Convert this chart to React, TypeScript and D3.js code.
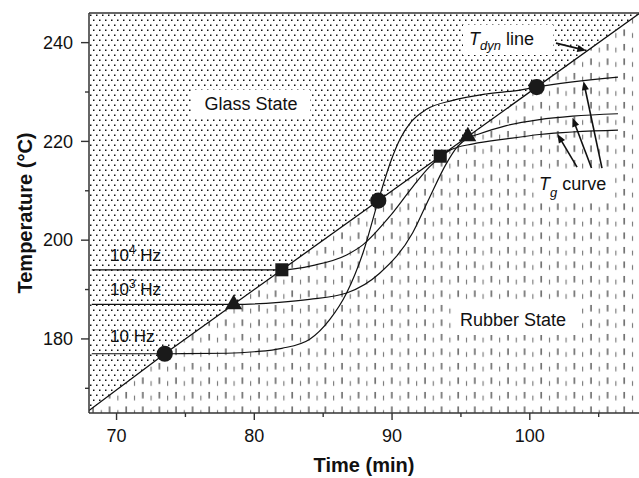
import React from 'react';
import * as d3 from 'd3';

const W = 639;
const H = 478;

const xDomain = [68, 108];
const yDomain = [165, 246];
const xMajorTicks = [70, 80, 90, 100];
const xMinorTicks = [75, 85, 95, 105];
const yMajorTicks = [180, 200, 220, 240];
const yMinorTicks = [170, 190, 210, 230];

// T_dyn line
const tdynTime = [68, 73.5, 108];
const tdynTemp = [165.5, 177, 246];

// Tg curves
const curve10Time = [68.2, 74, 78, 80, 82, 84, 85.5, 86.7, 87.9, 89, 89.95, 90.6, 91.4, 92.5, 94.4, 96.8, 99.3, 100.5, 106.4];
const curve10Temp = [177, 177, 177.1, 177.4, 178.1, 179.9, 184, 189.3, 197.5, 208, 216.3, 220.6, 224, 226.5, 228.3, 229.6, 230.4, 231, 233];

const curve1e3Time = [68.2, 78.5, 81.8, 84, 86.7, 89.1, 91.5, 92.7, 93.9, 94.7, 95.6, 96.2, 98.3, 100.7, 103.1, 106.4];
const curve1e3Temp = [187, 187, 187.4, 188, 189.3, 193.3, 201.5, 208.5, 215.3, 218.8, 220.8, 221.4, 223.2, 224.4, 225.1, 225.6];

const curve1e4Time = [68.2, 82, 84.3, 86.7, 87.9, 89.8, 91.5, 92.7, 93.6, 94.2, 95.9, 98.3, 100.7, 106.4];
const curve1e4Temp = [194, 194, 194.9, 197, 199.1, 204.7, 210.8, 214.8, 217, 218.2, 219.5, 220.5, 221.4, 222.3];

// markers on the T_dyn line
const markerTime = [73.5, 78.5, 82, 89, 93.5, 95.5, 100.5];
const markerTemp = [177, 187, 194, 208, 217, 221, 231];
const markerShape = ['circle', 'triangle', 'square', 'circle', 'square', 'triangle', 'circle'];

// annotation arrows [tailTime, tailTemp, tipTime, tipTemp]
const tdynArrow = [101.9, 239.9, 104.1, 238.4];
const tgArrowTail = [[103.43, 214.8], [104.48, 214.6], [105.24, 214.6]];
const tgArrowTip = [[102.0, 221.5], [103.1, 224.8], [103.9, 232.2]];

const FONT = 'Liberation Sans, Arial, Helvetica, sans-serif';

export default function App() {
  const x = d3.scaleLinear().domain(xDomain).range([89, 640]);
  const y = d3.scaleLinear().domain(yDomain).range([413, 13]);
  const left = 89, right = 640, top = 13, bottom = 413;

  const tdynPts: [number, number][] = tdynTime.map((t, i) => [t, tdynTemp[i]]);
  const glassArea = d3.area<[number, number]>()
    .x(d => x(d[0])).y0(d => y(d[1])).y1(top)(tdynPts) as string;
  const rubberArea = d3.area<[number, number]>()
    .x(d => x(d[0])).y0(d => y(d[1])).y1(bottom)(tdynPts) as string;
  const tdynLine = d3.line<[number, number]>().x(d => x(d[0])).y(d => y(d[1]))(tdynPts) as string;

  const curveGen = d3.line<[number, number]>().x(d => x(d[0])).y(d => y(d[1])).curve(d3.curveMonotoneX);
  const curves = [
    curve10Time.map((t, i) => [t, curve10Temp[i]] as [number, number]),
    curve1e3Time.map((t, i) => [t, curve1e3Temp[i]] as [number, number]),
    curve1e4Time.map((t, i) => [t, curve1e4Temp[i]] as [number, number]),
  ];

  const sym = (s: string) => {
    const type = s === 'circle' ? d3.symbolCircle : s === 'square' ? d3.symbolSquare : d3.symbolTriangle;
    const size = s === 'circle' ? 205 : s === 'square' ? 170 : 125;
    return d3.symbol().type(type).size(size)() as string;
  };

  const arrow = (x1: number, y1: number, x2: number, y2: number, key: string, hl = 9, hw = 3.6) => {
    const dx = x2 - x1, dy = y2 - y1;
    const len = Math.sqrt(dx * dx + dy * dy);
    const ux = dx / len, uy = dy / len;
    const bx = x2 - ux * hl, by = y2 - uy * hl;
    const px = -uy * hw, py = ux * hw;
    return (
      <g key={key}>
        <line x1={x1} y1={y1} x2={bx + ux * 1} y2={by + uy * 1} stroke="#111" strokeWidth={1.6} />
        <path d={`M${x2},${y2}L${bx + px},${by + py}L${bx - px},${by - py}Z`} fill="#111" />
      </g>
    );
  };

  return (
    <svg width={W} height={H} style={{ position: 'absolute', left: 0, top: 0, background: '#fff' }} fontFamily={FONT}>
      <defs>
        <pattern id="dots" width={6} height={10} patternUnits="userSpaceOnUse" x={left} y={top}>
          <rect x={1} y={1.5} width={1.5} height={1.5} fill="#111" />
          <rect x={4} y={6.5} width={1.5} height={1.5} fill="#111" />
        </pattern>
        <pattern id="dashes" width={16.6} height={14.5} patternUnits="userSpaceOnUse" x={left} y={top}>
          <line x1={4} x2={4} y1={2} y2={8.5} stroke="#222" strokeWidth={1.1} />
          <line x1={12.3} x2={12.3} y1={5.5} y2={10.5} stroke="#666" strokeWidth={1} />
        </pattern>
        <clipPath id="plotClip">
          <rect x={left} y={top} width={right - left} height={bottom - top} />
        </clipPath>
      </defs>

      <g clipPath="url(#plotClip)">
        <path d={glassArea} fill="url(#dots)" />
        <path d={rubberArea} fill="url(#dashes)" />

        {/* label boxes */}
        <rect x={192} y={90} width={118} height={27} fill="#fff" />
        <rect x={455} y={303} width={122} height={32} fill="#fff" />
        <rect x={463} y={25} width={90} height={30} fill="#fff" />
        <rect x={535} y={172} width={80} height={28} fill="#fff" />

        <path d={tdynLine} fill="none" stroke="#111" strokeWidth={1.3} />
        {curves.map((c, i) => (
          <path key={i} d={curveGen(c) as string} fill="none" stroke="#111" strokeWidth={1.2} />
        ))}
        {markerTime.map((t, i) => (
          <path key={i} d={sym(markerShape[i])} transform={`translate(${x(t)},${y(markerTemp[i])})`} fill="#1a1a1a" />
        ))}

        {arrow(x(tdynArrow[0]), y(tdynArrow[1]), x(tdynArrow[2]), y(tdynArrow[3]), 'ta')}
        {tgArrowTail.map((tl, i) => arrow(x(tl[0]), y(tl[1]), x(tgArrowTip[i][0]), y(tgArrowTip[i][1]), 'tg' + i))}

        <text x={251} y={110} fontSize={18} textAnchor="middle" fill="#111">Glass State</text>
        <text x={513} y={326} fontSize={18} textAnchor="middle" fill="#111">Rubber State</text>
        <text x={469} y={45} fontSize={18} fill="#111">
          <tspan fontStyle="italic">T</tspan>
          <tspan fontStyle="italic" fontSize={13} dy={5}>dyn</tspan>
          <tspan dy={-5}> line</tspan>
        </text>
        <text x={539} y={190} fontSize={18} fill="#111">
          <tspan fontStyle="italic">T</tspan>
          <tspan fontStyle="italic" fontSize={13} dy={7}>g</tspan>
          <tspan dy={-7}> curve</tspan>
        </text>

        <text x={110} y={261} fontSize={17} fill="#111">10<tspan fontSize={12} dy={-7}>4</tspan><tspan dy={7}> Hz</tspan></text>
        <text x={110} y={295} fontSize={17} fill="#111">10<tspan fontSize={12} dy={-7}>3</tspan><tspan dy={7}> Hz</tspan></text>
        <text x={110} y={342} fontSize={17} fill="#111">10 Hz</text>
      </g>

      {/* frame */}
      <line x1={left} x2={right} y1={top} y2={top} stroke="#333" strokeWidth={1.5} />
      <line x1={left} x2={left} y1={top} y2={bottom} stroke="#333" strokeWidth={1.5} />
      <line x1={left} x2={right} y1={bottom} y2={bottom} stroke="#333" strokeWidth={1.5} />

      {/* x ticks */}
      {xMajorTicks.map(t => (
        <g key={'xm' + t}>
          <line x1={x(t)} x2={x(t)} y1={bottom} y2={bottom + 7} stroke="#333" strokeWidth={1.4} />
          <text x={x(t)} y={442} fontSize={18} textAnchor="middle" fill="#111">{t}</text>
        </g>
      ))}
      {xMinorTicks.map(t => (
        <line key={'xn' + t} x1={x(t)} x2={x(t)} y1={bottom} y2={bottom + 4} stroke="#333" strokeWidth={1.4} />
      ))}
      {/* y ticks */}
      {yMajorTicks.map(v => (
        <g key={'ym' + v}>
          <line x1={left - 8} x2={left} y1={y(v)} y2={y(v)} stroke="#333" strokeWidth={1.4} />
          <text x={73} y={y(v)} dy="0.35em" fontSize={18} textAnchor="end" fill="#111">{v}</text>
        </g>
      ))}
      {yMinorTicks.map(v => (
        <line key={'yn' + v} x1={left - 4} x2={left} y1={y(v)} y2={y(v)} stroke="#333" strokeWidth={1.4} />
      ))}

      <text x={364} y={472} fontSize={20} fontWeight="bold" textAnchor="middle" fill="#111">Time (min)</text>
      <text transform={`translate(32,${(top + bottom) / 2}) rotate(-90)`} fontSize={20} fontWeight="bold" textAnchor="middle" fill="#111">Temperature (°C)</text>
    </svg>
  );
}
